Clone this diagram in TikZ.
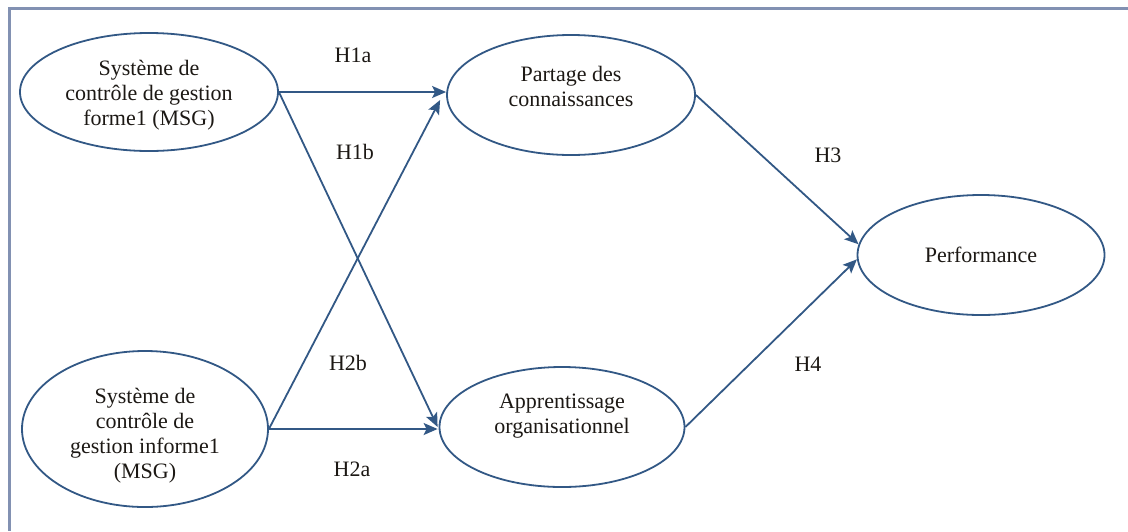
\documentclass[tikz,border=0pt]{standalone}
\usepackage{fontspec}
\setmainfont{Liberation Serif}
\usetikzlibrary{shapes.geometric,arrows.meta,calc}
\definecolor{linkblue}{RGB}{50,88,133}
\definecolor{framegray}{RGB}{130,145,178}
\definecolor{ink}{RGB}{28,24,20}
\begin{document}
\begin{tikzpicture}[x=0.5pt,y=-0.5pt,
  construct/.style={ellipse,draw=linkblue,line width=0.9pt,inner sep=0pt},
  caption/.style={text=ink,font=\fontsize{11}{12.5}\selectfont,align=center,inner sep=0pt},
  hyp/.style={text=ink,font=\fontsize{11}{12.5}\selectfont,inner sep=0pt},
  link/.style={draw=linkblue,line width=0.9pt,-{Stealth[length=7pt,width=6pt,inset=1.5pt]}}]
\useasboundingbox (0,0) rectangle (1128,531);
% open frame: top and left edges only
\draw[framegray,line width=1.5pt] (1128,8) -- (9,8) -- (9,531);

% constructs
\node[construct,minimum width=129pt,minimum height=59pt] (msgf) at (149,92) {};
\node[construct,minimum width=123pt,minimum height=78pt] (msgi) at (145,429) {};
\node[construct,minimum width=124pt,minimum height=60pt] (part) at (571,95) {};
\node[construct,minimum width=122.5pt,minimum height=60pt] (appr) at (562,427) {};
\node[construct,minimum width=123.5pt,minimum height=60pt] (perf) at (981,255) {};

% construct texts
\node[caption] (tmsgf) at (149,95) {Système de\\contrôle de gestion\\forme1 (MSG)};
\node[caption] (tmsgi) at (145,436) {Système de\\contrôle de\\gestion informe1\\(MSG)};
\node[caption] (tpart) at (571,86) {Partage des\\connaissances};
\node[caption] (tappr) at (562,416) {Apprentissage\\organisationnel};
\node[caption] (tperf) at (981,255) {Performance};

% hypothesised paths
\draw[link] (msgf.east) -- (msgf.east -| part.west);
\draw[link] (msgf.east) -- ($(appr.west)+(-1,0)$);
\draw[link] (msgi.east) -- ($(part.west)+(-6,5)$);
\draw[link] (msgi.east) -- ($(msgi.east -| appr.west)+(-1,0)$);
\draw[link] (part.east) -- (perf.175);
\draw[link] (appr.east) -- (perf.182);

% path labels
\node[hyp] (h1a) at (353,55) {H1a};
\node[hyp] (h1b) at (355,152) {H1b};
\node[hyp] (h2b) at (348,363) {H2b};
\node[hyp] (h2a) at (352,469) {H2a};
\node[hyp] (h3) at (828,155) {H3};
\node[hyp] (h4) at (808,364) {H4};
\end{tikzpicture}
\end{document}
